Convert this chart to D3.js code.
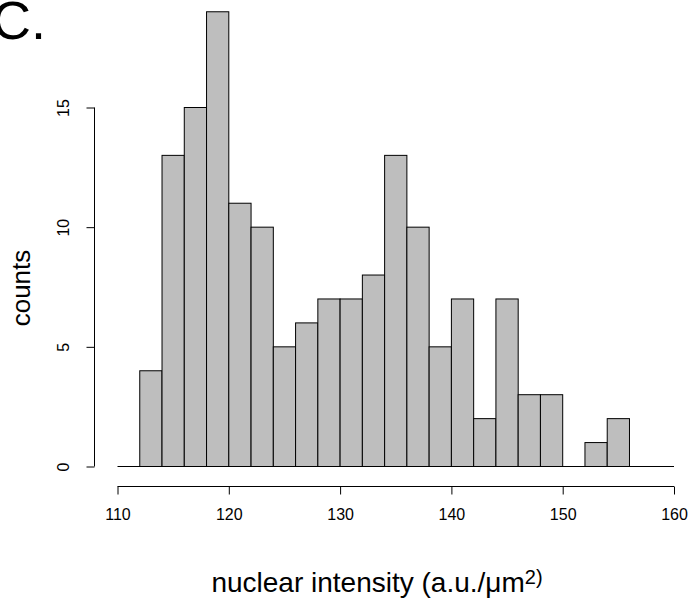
<!DOCTYPE html>
<html>
<head>
<meta charset="utf-8">
<script src="https://cdn.jsdelivr.net/npm/d3@7"></script>
<style>
  body { margin: 0; background: #fff; }
  svg { display: block; font-family: 'Liberation Sans', Arial, sans-serif; }
</style>
</head>
<body>
<div id="chart"></div>
<script>
// histogram bins (left edges, width 2) and counts
const binStarts = [112, 114, 116, 118, 120, 122, 124, 126, 128, 130, 132, 134, 136, 138, 140, 142, 144, 146, 148, 150, 152, 154];
const binWidth = 2;
const counts = [4, 13, 15, 19, 11, 10, 5, 6, 7, 7, 8, 13, 10, 5, 7, 2, 7, 3, 3, 0, 1, 2];
const xTicks = [110, 120, 130, 140, 150, 160];
const yTicks = [0, 5, 10, 15];

const width = 691;
const height = 603;
const font = 'Liberation Sans, Arial, sans-serif';

const svg = d3
    .select('#chart')
    .append('svg')
    .attr('width', width)
    .attr('height', height)
    .attr('viewBox', [0, 0, width, height]);

const x = d3.scaleLinear().domain([110, 160]).range([117.5, 674]);
const y = d3.scaleLinear().domain([0, 15]).range([466.5, 107.5]);

// panel letter (cut at the left edge as in the source figure)
svg.append('text')
    .attr('x', -8)
    .attr('y', 39)
    .attr('font-size', 54)
    .attr('fill', '#000')
    .text('C.');

// bars
svg.append('g')
    .selectAll('rect')
    .data(binStarts.map((s, i) => ({ s, c: counts[i] })).filter((d) => d.c > 0))
    .join('rect')
    .attr('x', (d) => x(d.s))
    .attr('y', (d) => y(d.c))
    .attr('width', (d) => x(d.s + binWidth) - x(d.s))
    .attr('height', (d) => y(0) - y(d.c))
    .attr('fill', '#bebebe')
    .attr('stroke', '#000')
    .attr('stroke-width', 1);

// baseline under the bars
svg.append('line')
    .attr('x1', x(110))
    .attr('x2', x(160))
    .attr('y1', y(0))
    .attr('y2', y(0))
    .attr('stroke', '#000');

// x axis
const xAxis = d3.axisBottom(x).tickValues(xTicks).tickSize(8).tickPadding(14);
const xg = svg.append('g').attr('transform', 'translate(0,486.5)').call(xAxis);
xg.select('.domain').attr('d', `M${x(110)},0H${x(160)}`);
xg.selectAll('text').attr('font-size', 16).attr('font-family', font);

// y axis
const yAxis = d3.axisLeft(y).tickValues(yTicks).tickSize(8);
const yg = svg.append('g').attr('transform', 'translate(94.5,0)').call(yAxis);
yg.select('.domain').attr('d', `M0,${y(0)}V${y(15)}`);
yg.selectAll('.tick text')
    .attr('font-size', 16)
    .attr('font-family', font)
    .attr('text-anchor', 'middle')
    .attr('dy', null)
    .attr('x', null)
    .attr('transform', 'translate(-30,0) rotate(-90)')
    .attr('y', 0)
    .attr('dominant-baseline', 'middle');

// axis titles
svg.append('text')
    .attr('transform', 'translate(30,288) rotate(-90)')
    .attr('text-anchor', 'middle')
    .attr('font-size', 26)
    .text('counts');

const xl = svg.append('text')
    .attr('x', 377)
    .attr('y', 592)
    .attr('text-anchor', 'middle')
    .attr('font-size', 28)
    .text('nuclear intensity (a.u./μm');
xl.append('tspan')
    .attr('font-size', 20)
    .attr('dy', -8)
    .text('2)');
</script>
</body>
</html>
